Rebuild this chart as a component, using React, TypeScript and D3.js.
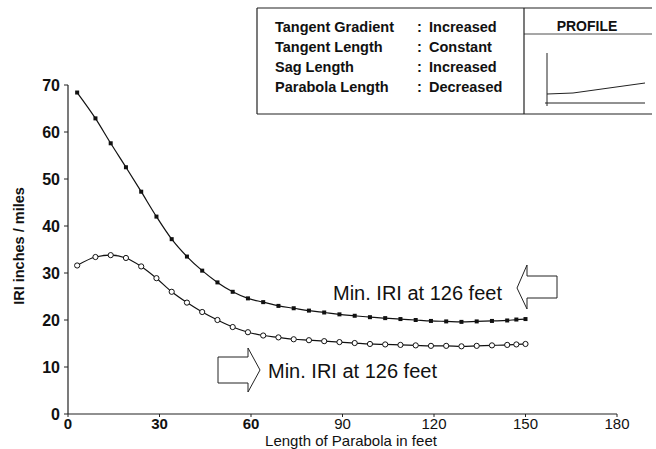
import React from "react";
import * as d3 from "d3";

const W = 656;
const H = 449;

// Length of parabola (feet)
const lengths = [3, 9, 14, 19, 24, 29, 34, 39, 44, 49, 54, 59, 64, 69, 74, 79, 84, 89, 94, 99, 104, 109, 114, 119, 124, 129, 134, 139, 144, 147, 150];
// Upper series (filled squares)
const iriUpper = [68.4, 62.9, 57.6, 52.5, 47.3, 42.0, 37.2, 33.5, 30.5, 28.0, 26.0, 24.6, 23.8, 23.0, 22.5, 22.0, 21.6, 21.2, 20.9, 20.6, 20.4, 20.2, 20.0, 19.8, 19.7, 19.6, 19.7, 19.8, 19.9, 20.1, 20.2];
// Lower series (open circles)
const iriLower = [31.6, 33.4, 33.8, 33.2, 31.4, 28.9, 26.0, 23.7, 21.7, 20.0, 18.5, 17.4, 16.7, 16.3, 15.9, 15.7, 15.5, 15.3, 15.1, 14.9, 14.8, 14.7, 14.6, 14.5, 14.5, 14.4, 14.5, 14.6, 14.7, 14.8, 14.9];

const xTicks = [0, 30, 60, 90, 120, 150, 180];
const yTicks = [0, 10, 20, 30, 40, 50, 60, 70];

const legendLabels = ["Tangent Gradient", "Tangent Length", "Sag Length", "Parabola Length"];
const legendValues = ["Increased", "Constant", "Increased", "Decreased"];

const annotationText = "Min. IRI at 126 feet";

const FONT = "'Liberation Sans', Arial, Helvetica, sans-serif";

export default function App() {
  const x = d3.scaleLinear().domain([0, 180]).range([68, 617]);
  const y = d3.scaleLinear().domain([0, 70]).range([414, 85]);

  const line = d3
    .line<number>()
    .x((_, i) => x(lengths[i]))
    .y((d) => y(d))
    .curve(d3.curveMonotoneX);

  // Legend box geometry
  const bx0 = 257, by0 = 8, bx1 = 652, by1 = 114, bdiv = 524;
  const rowBase = [32, 52, 72, 92];

  // Arrows (positioned relative to anchors)
  const upTip = { x: 517, y: 288 };
  const upArrow = [
    [upTip.x, upTip.y],
    [upTip.x + 10, upTip.y - 23],
    [upTip.x + 10, upTip.y - 12],
    [upTip.x + 40, upTip.y - 12],
    [upTip.x + 40, upTip.y + 10],
    [upTip.x + 10, upTip.y + 10],
    [upTip.x + 10, upTip.y + 21],
  ];
  const loTip = { x: 260, y: 370 };
  const loArrow = [
    [loTip.x, loTip.y],
    [loTip.x - 12, loTip.y - 22],
    [loTip.x - 12, loTip.y - 13],
    [loTip.x - 42, loTip.y - 13],
    [loTip.x - 42, loTip.y + 13],
    [loTip.x - 12, loTip.y + 13],
    [loTip.x - 12, loTip.y + 22],
  ];
  const poly = (pts: number[][]) => pts.map((p) => p.join(",")).join(" ");

  return (
    <svg
      width={W}
      height={H}
      style={{ position: "absolute", left: 0, top: 0, background: "#fff" }}
      fontFamily={FONT}
    >
      <rect x={0} y={0} width={W} height={H} fill="#fff" />

      {/* Axes */}
      <line x1={x(0)} x2={x(0)} y1={y(0)} y2={y(70)} stroke="#222" strokeWidth={1.2} />
      <line x1={x(0)} x2={x(180)} y1={y(0)} y2={y(0)} stroke="#222" strokeWidth={1.2} />
      {yTicks.map((t) => (
        <g key={"y" + t}>
          <line x1={x(0) - 4} x2={x(0)} y1={y(t)} y2={y(t)} stroke="#222" strokeWidth={1} />
          <text x={60} y={y(t) + 5.5} textAnchor="end" fontSize={16} fontWeight="bold" fill="#111">
            {t}
          </text>
        </g>
      ))}
      {xTicks.map((t) => (
        <g key={"x" + t}>
          <line x1={x(t)} x2={x(t)} y1={y(0)} y2={y(0) + 3} stroke="#222" strokeWidth={1} />
          <text x={x(t)} y={428.5} textAnchor="middle" fontSize={15} fontWeight={t <= 60 ? "bold" : "normal"} fill="#111">
            {t}
          </text>
        </g>
      ))}

      {/* Axis titles */}
      <text x={351} y={445.5} textAnchor="middle" fontSize={15} fill="#111">
        Length of Parabola in feet
      </text>
      <text
        transform={`translate(24,246) rotate(-90)`}
        textAnchor="middle"
        fontSize={14.5}
        fontWeight="bold"
        fill="#111"
      >
        IRI inches / miles
      </text>

      {/* Series */}
      <path d={line(iriUpper) || ""} fill="none" stroke="#111" strokeWidth={1.2} />
      <path d={line(iriLower) || ""} fill="none" stroke="#111" strokeWidth={1.2} />
      {iriUpper.map((v, i) => (
        <rect key={"u" + i} x={x(lengths[i]) - 2} y={y(v) - 2} width={4} height={4} fill="#111" />
      ))}
      {iriLower.map((v, i) => (
        <circle key={"l" + i} cx={x(lengths[i])} cy={y(v)} r={2.6} fill="#fff" stroke="#111" strokeWidth={1} />
      ))}

      {/* Annotations */}
      <text x={333} y={300} fontSize={20} fill="#111">
        {annotationText}
      </text>
      <polygon points={poly(upArrow)} fill="#fff" stroke="#222" strokeWidth={1} />
      <text x={268} y={378} fontSize={20} fill="#111">
        {annotationText}
      </text>
      <polygon points={poly(loArrow)} fill="#fff" stroke="#222" strokeWidth={1} />

      {/* Legend box */}
      <g stroke="#222" strokeWidth={1.2} fill="none">
        <line x1={bx0} x2={bx1} y1={by0} y2={by0} />
        <line x1={bx0} x2={bx1} y1={by1} y2={by1} />
        <line x1={bx0} x2={bx0} y1={by0} y2={by1} />
        <line x1={bdiv} x2={bdiv} y1={by0} y2={by1} />
        <line x1={bdiv} x2={bx1} y1={34} y2={34} strokeWidth={0.8} />
        {/* profile sketch */}
        <line x1={547} x2={547} y1={53} y2={106} strokeWidth={1} />
        <line x1={545} x2={645} y1={103} y2={103} strokeWidth={1} />
        <polyline points="547,94 573,93 645,83" strokeWidth={1} />
      </g>
      {legendLabels.map((lab, i) => (
        <g key={"lg" + i} fontSize={14.5} fontWeight="bold" fill="#111">
          <text x={275} y={rowBase[i]}>{lab}</text>
          <text x={417} y={rowBase[i]}>:</text>
          <text x={429} y={rowBase[i]}>{legendValues[i]}</text>
        </g>
      ))}
      <text x={587} y={31} textAnchor="middle" fontSize={14} fontWeight="bold" fill="#111">
        PROFILE
      </text>
    </svg>
  );
}
